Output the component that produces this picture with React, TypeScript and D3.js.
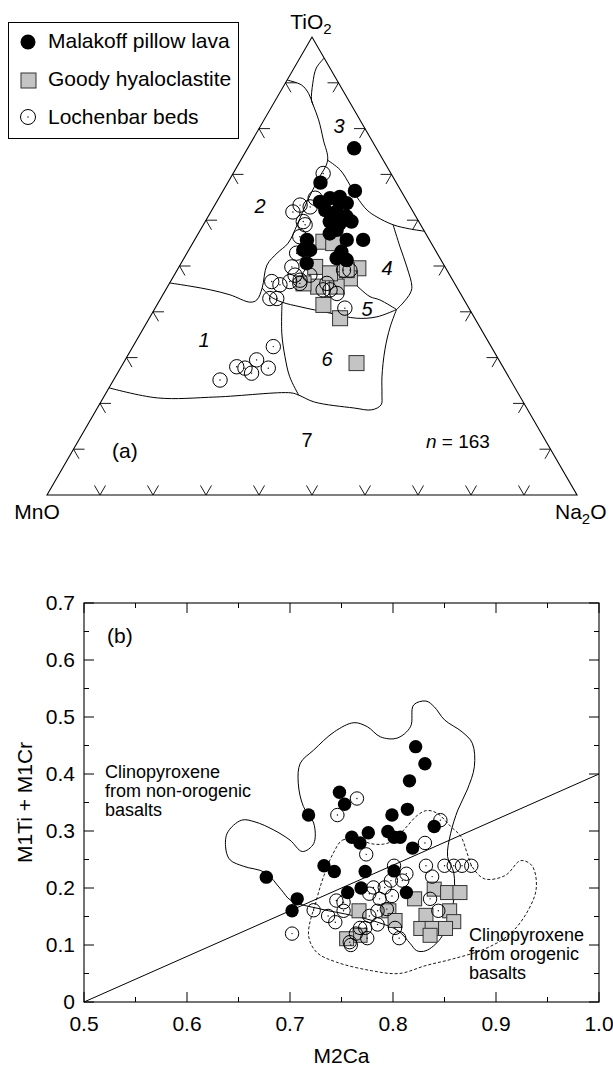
import React from 'react';
import * as d3 from 'd3';

// ---------- Ternary data: [TiO2, Na2O, MnO] ----------
const malakoffTern: number[][] = [
  [75.7,20.1,4.2],[66.4,24.9,8.7],[68.2,17.5,14.3],[64.0,19.5,16.5],[64.8,21.0,14.2],[65.1,22.7,12.2],
  [63.7,24.7,11.6],[62.2,21.4,16.4],[61.9,23.7,14.4],[60.8,26.1,13.1],[59.7,23.5,16.8],[59.3,25.6,15.1],
  [59.7,27.6,12.7],[63.7,20.3,16.0],[63.7,23.4,12.9],[57.9,25.7,16.4],[57.1,24.8,18.1],[55.7,28.7,15.6],
  [55.7,21.2,23.1],[53.5,21.6,24.9],[53.5,22.9,23.6],[53.1,29.0,17.9],[51.3,30.9,17.8],[55.7,31.8,12.5],
  [50.6,23.7,25.7],[51.7,28.8,19.5]
];
const goodyTern: number[][] = [
  [55.3,24.5,20.2],[49.8,25.7,24.5],[55.0,26.5,18.5],[49.5,34.0,16.5],[47.3,33.5,19.2],[45.5,28.4,26.1],
  [45.5,31.9,22.6],[41.5,31.4,27.1],[38.6,36.0,25.4],[28.8,44.0,27.2],[49.1,32.0,18.9],[46.2,25.3,28.5],
  [48.4,29.2,22.4]
];
const lochenbarTern: number[][] = [
  [70.2,17.0,12.8],[63.3,16.1,20.6],[62.9,18.2,18.9],[64.8,18.2,17.0],[59.7,18.5,21.8],[59.0,19.2,21.8],
  [56.4,19.5,24.1],[52.8,20.7,26.5],[49.8,21.3,28.9],[48.0,22.8,29.2],[46.6,19.1,34.3],[45.9,21.0,33.1],
  [46.6,22.5,30.9],[46.9,24.3,28.8],[42.9,20.6,36.5],[42.9,21.9,35.2],[44.8,29.7,25.5],[44.8,31.0,24.2],
  [44.0,32.7,23.3],[49.1,31.4,19.5],[49.1,32.6,18.3],[46.2,29.7,24.1],[40.8,35.8,23.4],[48.0,25.6,26.4],
  [46.2,24.6,29.2],[61.8,15.5,22.7],[32.4,26.5,41.1],[29.5,24.8,45.7],[27.7,27.9,44.4],[27.7,23.5,48.8],
  [26.6,25.3,48.1],[28.0,21.8,50.2],[25.1,20.1,54.8]
];

// Field boundaries: [TiO2, Na2O] (MnO = 100 - both)
const boundary2: number[][] = [
  [90.6,0],[89.5,3.3],[87.7,5.5],[85.2,7.6],[81.9,10.3],[77.5,13.4],[73.1,16.4],[68.8,16.7],[64.4,17.0],
  [59.0,17.7],[55.0,18.0],[52.8,17.0],[50.2,16.4],[45.2,18.0],[42.6,18.3],[42.1,17.3],[43.7,12.7],
  [44.8,8.4],[45.6,4.2],[46.3,0]
];
const boundaryTop: number[][] = [[95.4,4.6],[93.2,4.2],[89.9,5.2],[86.2,6.8],[85.2,7.6]];
const boundary34: number[][] = [
  [73.1,16.4],[71.0,19.8],[67.7,23.3],[65.1,25.9],[62.2,29.3],[60.7,31.9],[59.0,35.8],[58.1,39.4],[57.6,42.4]
];
const boundary47: number[][] = [[59.0,35.8],[54.2,39.5],[49.8,43.0],[45.5,46.1],[44.1,46.5],[41.9,46.2],[40.5,45.7]];
const boundary5up: number[][] = [[40.5,45.7],[42.6,41.5],[43.3,39.3],[45.0,36.6],[47.7,32.7],[49.6,28.6]];
const boundary56: number[][] = [
  [40.5,45.7],[38.9,42.8],[38.6,39.1],[39.7,33.6],[41.1,27.2],[42.1,23.3],[43.4,20.4],[45.2,18.0]
];
const boundary16: number[][] = [[42.1,23.3],[35.4,26.6],[30.2,29.8],[25.8,32.9],[21.8,36.6]];
const boundary7: number[][] = [
  [23.4,0],[21.2,10.2],[21.4,21.2],[22.3,34.9],[21.8,36.6],[20.3,40.3],[19.0,48.4],[18.6,52.0],
  [19.7,53.2],[21.8,52.3],[25.8,50.3],[31.7,47.9],[36.7,46.4],[40.5,45.7]
];
const ternTicks = [10, 20, 30, 40, 50, 60, 70, 80, 90];

// ---------- Plot (b) data: [M2Ca, M1Ti+M1Cr] ----------
const malakoffB: number[][] = [
  [0.822,0.448],[0.831,0.418],[0.816,0.388],[0.748,0.368],[0.753,0.347],[0.718,0.328],[0.814,0.338],
  [0.799,0.328],[0.840,0.308],[0.776,0.297],[0.760,0.289],[0.768,0.279],[0.795,0.299],[0.801,0.289],
  [0.807,0.289],[0.819,0.270],[0.733,0.239],[0.743,0.229],[0.773,0.229],[0.801,0.230],[0.677,0.219],
  [0.707,0.181],[0.702,0.160],[0.756,0.192],[0.769,0.200],[0.813,0.192]
];
const goodyB: number[][] = [
  [0.767,0.160],[0.796,0.160],[0.802,0.143],[0.821,0.181],[0.840,0.198],[0.853,0.192],[0.865,0.192],
  [0.832,0.152],[0.855,0.160],[0.859,0.141],[0.827,0.129],[0.838,0.129],[0.851,0.129],[0.836,0.117],
  [0.768,0.117],[0.755,0.111]
];
const lochenbarB: number[][] = [
  [0.765,0.357],[0.746,0.328],[0.846,0.319],[0.831,0.279],[0.774,0.259],[0.801,0.239],[0.832,0.239],
  [0.850,0.239],[0.859,0.239],[0.867,0.239],[0.876,0.239],[0.838,0.220],[0.702,0.120],[0.723,0.161],
  [0.737,0.151],[0.745,0.178],[0.752,0.160],[0.744,0.140],[0.798,0.213],[0.809,0.213],[0.813,0.225],
  [0.781,0.201],[0.792,0.201],[0.777,0.190],[0.787,0.181],[0.799,0.186],[0.836,0.181],[0.844,0.160],
  [0.777,0.151],[0.785,0.136],[0.768,0.130],[0.773,0.130],[0.764,0.120],[0.775,0.112],[0.759,0.100],
  [0.802,0.130],[0.806,0.112],[0.785,0.160],[0.794,0.163],[0.758,0.105],[0.752,0.175]
];
const nonOrogenicField: number[][] = [
  [0.701,0.178],[0.691,0.198],[0.676,0.227],[0.655,0.238],[0.642,0.249],[0.638,0.265],[0.639,0.296],
  [0.653,0.319],[0.666,0.316],[0.684,0.302],[0.700,0.284],[0.712,0.264],[0.723,0.278],[0.723,0.314],
  [0.713,0.343],[0.708,0.384],[0.710,0.419],[0.723,0.442],[0.743,0.474],[0.762,0.490],[0.775,0.483],
  [0.788,0.465],[0.804,0.463],[0.817,0.483],[0.820,0.521],[0.832,0.528],[0.840,0.518],[0.850,0.495],
  [0.867,0.474],[0.877,0.454],[0.879,0.413],[0.872,0.372],[0.863,0.337],[0.856,0.296],[0.853,0.255],
  [0.859,0.227],[0.859,0.181],[0.855,0.146],[0.846,0.111],[0.832,0.090],[0.823,0.090],[0.817,0.102],
  [0.805,0.125],[0.785,0.140],[0.760,0.152],[0.730,0.163]
];
const orogenicField: number[][] = [
  [0.742,0.261],[0.751,0.284],[0.768,0.285],[0.778,0.278],[0.791,0.277],[0.801,0.284],[0.812,0.305],
  [0.824,0.328],[0.833,0.336],[0.843,0.331],[0.856,0.308],[0.866,0.290],[0.872,0.261],[0.877,0.237],
  [0.889,0.216],[0.909,0.222],[0.924,0.248],[0.935,0.239],[0.939,0.198],[0.928,0.151],[0.912,0.117],
  [0.889,0.093],[0.859,0.076],[0.832,0.064],[0.806,0.050],[0.779,0.055],[0.745,0.070],[0.726,0.087],
  [0.718,0.117],[0.726,0.181],[0.733,0.222]
];
const divideLine: number[][] = [[0.5, 0], [1.0, 0.4]];
const xMajor = [0.5, 0.6, 0.7, 0.8, 0.9, 1.0];
const xLabels = ['0.5', '0.6', '0.7', '0.8', '0.9', '1.0'];
const xMinor = [0.55, 0.65, 0.75, 0.85, 0.95];
const yMajor = [0, 0.1, 0.2, 0.3, 0.4, 0.5, 0.6, 0.7];
const yLabels = ['0', '0.1', '0.2', '0.3', '0.4', '0.5', '0.6', '0.7'];
const yMinor = [0.05, 0.15, 0.25, 0.35, 0.45, 0.55, 0.65];

// ---------- scales ----------
const tx = d3.scaleLinear().domain([0, 100]).range([47, 577]);
const ty = d3.scaleLinear().domain([0, 100]).range([495, 37]);
function proj(ti: number, na: number, mn: number): [number, number] {
  const s = ti + na + mn;
  const T = (ti / s) * 100, N = (na / s) * 100;
  return [tx(N + T / 2), ty(T)];
}
const bx = d3.scaleLinear().domain([0.5, 1.0]).range([84, 599]);
const by = d3.scaleLinear().domain([0, 0.7]).range([1002, 603]);

const FONT = 'Liberation Sans, Arial, Helvetica, sans-serif';

function unit(a: number[], b: number[]) {
  const dx = b[0] - a[0], dy = b[1] - a[1];
  const l = Math.hypot(dx, dy);
  return [dx / l, dy / l];
}

function OpenCircle({ x, y, r }: { x: number; y: number; r: number }) {
  return (
    <g>
      <circle cx={x} cy={y} r={r} fill="none" stroke="#000" strokeWidth={1} />
      <circle cx={x} cy={y} r={0.7} fill="#000" />
    </g>
  );
}

export default function App() {
  const tLine = d3.line<number[]>()
    .x((d) => proj(d[0], d[1], 100 - d[0] - d[1])[0])
    .y((d) => proj(d[0], d[1], 100 - d[0] - d[1])[1])
    .curve(d3.curveCatmullRom.alpha(0.5));
  const bClosed = d3.line<number[]>().x((d) => bx(d[0])).y((d) => by(d[1])).curve(d3.curveCatmullRomClosed.alpha(0.5));
  const bLine = d3.line<number[]>().x((d) => bx(d[0])).y((d) => by(d[1]));

  const A = proj(100, 0, 0), L = proj(0, 0, 100), R = proj(0, 100, 0);
  const tl = 11;
  const uLA = unit(L, A), uRA = unit(R, A), uLR = unit(L, R), uAR = unit(A, R), uRL = unit(R, L), uAL = unit(A, L);
  const tickPaths: string[] = [];
  ternTicks.forEach((k) => {
    const pb = proj(0, k, 100 - k);
    tickPaths.push(`M${pb[0] + uLA[0] * tl},${pb[1] + uLA[1] * tl}L${pb[0]},${pb[1]}L${pb[0] + uRA[0] * tl},${pb[1] + uRA[1] * tl}`);
    const pl = proj(k, 0, 100 - k);
    tickPaths.push(`M${pl[0] + uLR[0] * tl},${pl[1] + uLR[1] * tl}L${pl[0]},${pl[1]}L${pl[0] + uAR[0] * tl},${pl[1] + uAR[1] * tl}`);
    const pr = proj(k, 100 - k, 0);
    tickPaths.push(`M${pr[0] + uRL[0] * tl},${pr[1] + uRL[1] * tl}L${pr[0]},${pr[1]}L${pr[0] + uAL[0] * tl},${pr[1] + uAL[1] * tl}`);
  });

  const tr = 7.2, tsq = 15;
  const br = 6.7, bsq = 14;
  const [x0, x1] = bx.range();
  const [y0, y1] = by.range();

  return (
    <div style={{ position: 'absolute', left: 0, top: 0 }}>
      <svg width={613} height={1066} viewBox="0 0 613 1066" style={{ display: 'block', background: '#fff' }} fontFamily={FONT}>
        <rect x={0} y={0} width={613} height={1066} fill="#fff" />
        {/* ---------- (a) ternary ---------- */}
        <path d={`M${L[0]},${L[1]}L${A[0]},${A[1]}L${R[0]},${R[1]}Z`} fill="none" stroke="#000" strokeWidth={1.1} />
        {tickPaths.map((d, i) => (
          <path key={i} d={d} fill="none" stroke="#000" strokeWidth={0.9} />
        ))}
        {[boundary2, boundaryTop, boundary34, boundary47, boundary5up, boundary56, boundary16, boundary7].map((b, i) => (
          <path key={i} d={tLine(b) || ''} fill="none" stroke="#000" strokeWidth={1} />
        ))}
        <text x={311} y={29} fontSize={21} textAnchor="middle">TiO<tspan fontSize={15} dy={5}>2</tspan></text>
        <text x={37} y={519} fontSize={21} textAnchor="middle">MnO</text>
        <text x={555} y={519} fontSize={21}>Na<tspan fontSize={15} dy={5}>2</tspan><tspan dy={-5}>O</tspan></text>
        <g fontSize={20} fontStyle="italic" textAnchor="middle">
          <text x={204} y={347}>1</text>
          <text x={260} y={213}>2</text>
          <text x={339} y={133}>3</text>
          <text x={387} y={275}>4</text>
          <text x={367} y={316}>5</text>
          <text x={327} y={366}>6</text>
        </g>
        <text x={307} y={447} fontSize={20} textAnchor="middle">7</text>
        <text x={112} y={458} fontSize={21}>(a)</text>
        <text x={426} y={448} fontSize={19}><tspan fontStyle="italic">n</tspan> = 163</text>

        {goodyTern.map((d, i) => {
          const p = proj(d[0], d[1], d[2]);
          return <rect key={'gt' + i} x={p[0] - tsq / 2} y={p[1] - tsq / 2} width={tsq} height={tsq} fill="#c4c4c4" stroke="#333" strokeWidth={1} />;
        })}
        {malakoffTern.map((d, i) => {
          const p = proj(d[0], d[1], d[2]);
          return <circle key={'mt' + i} cx={p[0]} cy={p[1]} r={tr} fill="#000" />;
        })}
        {lochenbarTern.map((d, i) => {
          const p = proj(d[0], d[1], d[2]);
          return <OpenCircle key={'lt' + i} x={p[0]} y={p[1]} r={tr} />;
        })}

        {/* legend */}
        <rect x={8.5} y={22.5} width={230} height={116} fill="#fff" stroke="#000" strokeWidth={1} />
        <circle cx={28} cy={42} r={7.5} fill="#000" />
        <rect x={21} y={73} width={15} height={15} fill="#c4c4c4" stroke="#333" strokeWidth={1} />
        <OpenCircle x={28} y={117} r={7.5} />
        <g fontSize={21}>
          <text x={48} y={48}>Malakoff pillow lava</text>
          <text x={48} y={86}>Goody hyaloclastite</text>
          <text x={48} y={124}>Lochenbar beds</text>
        </g>

        {/* ---------- (b) ---------- */}
        <path d={bClosed(nonOrogenicField) || ''} fill="none" stroke="#000" strokeWidth={1} />
        <path d={bClosed(orogenicField) || ''} fill="none" stroke="#000" strokeWidth={0.9} strokeDasharray="3,2" />
        <path d={bLine(divideLine) || ''} fill="none" stroke="#000" strokeWidth={1} />

        {goodyB.map((d, i) => (
          <rect key={'gb' + i} x={bx(d[0]) - bsq / 2} y={by(d[1]) - bsq / 2} width={bsq} height={bsq} fill="#c4c4c4" stroke="#333" strokeWidth={1} />
        ))}
        {malakoffB.map((d, i) => (
          <circle key={'mb' + i} cx={bx(d[0])} cy={by(d[1])} r={br} fill="#000" />
        ))}
        {lochenbarB.map((d, i) => (
          <OpenCircle key={'lb' + i} x={bx(d[0])} y={by(d[1])} r={br} />
        ))}

        <rect x={x0} y={y1} width={x1 - x0} height={y0 - y1} fill="none" stroke="#000" strokeWidth={1.1} />
        {xMajor.map((v, i) => (
          <g key={'xm' + i}>
            <line x1={bx(v)} x2={bx(v)} y1={y0} y2={y0 - 10} stroke="#000" />
            <line x1={bx(v)} x2={bx(v)} y1={y1} y2={y1 + 10} stroke="#000" />
            <text x={bx(v)} y={1031} fontSize={21} textAnchor="middle">{xLabels[i]}</text>
          </g>
        ))}
        {xMinor.map((v, i) => (
          <g key={'xn' + i}>
            <line x1={bx(v)} x2={bx(v)} y1={y0} y2={y0 - 5} stroke="#000" />
            <line x1={bx(v)} x2={bx(v)} y1={y1} y2={y1 + 5} stroke="#000" />
          </g>
        ))}
        {yMajor.map((v, i) => (
          <g key={'ym' + i}>
            <line x1={x0} x2={x0 + 10} y1={by(v)} y2={by(v)} stroke="#000" />
            <line x1={x1} x2={x1 - 10} y1={by(v)} y2={by(v)} stroke="#000" />
            <text x={75} y={by(v) + 7} fontSize={21} textAnchor="end">{yLabels[i]}</text>
          </g>
        ))}
        {yMinor.map((v, i) => (
          <g key={'yn' + i}>
            <line x1={x0} x2={x0 + 5} y1={by(v)} y2={by(v)} stroke="#000" />
            <line x1={x1} x2={x1 - 5} y1={by(v)} y2={by(v)} stroke="#000" />
          </g>
        ))}
        <text x={(x0 + x1) / 2} y={1063} fontSize={21} textAnchor="middle">M2Ca</text>
        <text transform={`translate(32,${(y0 + y1) / 2}) rotate(-90)`} fontSize={21} textAnchor="middle">M1Ti + M1Cr</text>
        <text x={107} y={643} fontSize={21}>(b)</text>
        <g fontSize={18}>
          <text x={105} y={778}>Clinopyroxene</text>
          <text x={105} y={797}>from non-orogenic</text>
          <text x={105} y={816}>basalts</text>
          <text x={469} y={941}>Clinopyroxene</text>
          <text x={469} y={960}>from orogenic</text>
          <text x={469} y={979}>basalts</text>
        </g>
      </svg>
    </div>
  );
}
